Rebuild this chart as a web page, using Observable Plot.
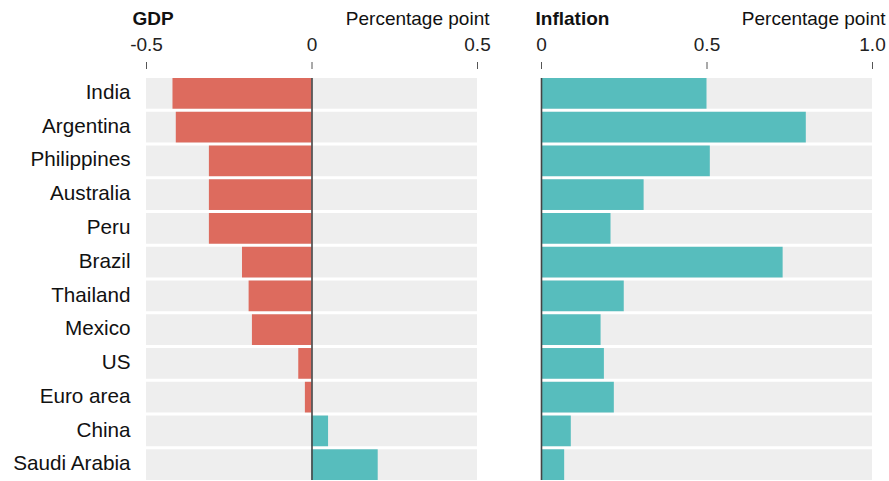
<!DOCTYPE html>
<html>
<head>
<meta charset="utf-8">
<script src="https://cdn.jsdelivr.net/npm/d3@7"></script>
<script src="https://cdn.jsdelivr.net/npm/@observablehq/plot@0.6"></script>
<style>
  html, body { margin: 0; padding: 0; background: #fff; }
  #wrap { position: relative; width: 889px; height: 481px; overflow: hidden; }
  #wrap svg { position: absolute; top: 0; }
</style>
</head>
<body>
<div id="wrap"></div>
<script>
const countries = ["India", "Argentina", "Philippines", "Australia", "Peru", "Brazil", "Thailand", "Mexico", "US", "Euro area", "China", "Saudi Arabia"];
const gdp = [-0.42, -0.41, -0.31, -0.31, -0.31, -0.21, -0.19, -0.18, -0.04, -0.02, 0.05, 0.20];
const inflation = [0.50, 0.80, 0.51, 0.31, 0.21, 0.73, 0.25, 0.18, 0.19, 0.22, 0.09, 0.07];
const gdpTicks = [-0.5, 0, 0.5];
const gdpTickLabels = ["-0.5", "0", "0.5"];
const infTicks = [0, 0.5, 1.0];
const infTickLabels = ["0", "0.5", "1.0"];
const panelTitles = ["GDP", "Inflation"];
const unitLabel = "Percentage point";

const RED = "#dd6b5e", TEAL = "#57bdbd", BG = "#eeeeee";
const FONT = "'Liberation Sans', Arial, Helvetica, sans-serif";

const gdpRows = countries.map((c, i) => ({country: c, value: gdp[i]}));
const infRows = countries.map((c, i) => ({country: c, value: inflation[i]}));

function panel({rows, domain, ticks, tickLabels, title, width, marginLeft, marginRight, showY, titleDx, unitDx}) {
  const fmt = d => tickLabels[ticks.indexOf(d)];
  return Plot.plot({
    width, height: 481,
    marginTop: 78, marginBottom: 1, marginLeft, marginRight,
    style: {background: "transparent", fontFamily: FONT, fontSize: "19px", color: "#111"},
    x: {domain, ticks, tickFormat: fmt, label: null},
    y: {domain: countries, paddingInner: 0.09, paddingOuter: 0, round: false, label: null},
    marks: [
      Plot.barX(rows, {y: "country", x1: () => domain[0], x2: () => domain[1], fill: BG}),
      Plot.barX(rows, {y: "country", x1: () => 0, x2: "value", fill: d => d.value < 0 ? RED : TEAL}),
      Plot.ruleX([0], {stroke: "#444", strokeWidth: 1.6}),
      Plot.axisX(ticks, {anchor: "top", tickFormat: fmt, tickSize: 7, dy: -10, tickPadding: 11, stroke: "#555", fill: "#222", fontSize: 19, label: null}),
      showY ? Plot.axisY({anchor: "left", tickSize: 0, tickPadding: 16, dy: -1.5, fill: "#111", fontSize: 20.7, label: null}) : Plot.axisY([], {label: null}),
      Plot.text([title], {text: d => d, frameAnchor: "top-left", textAnchor: "start", dx: titleDx, dy: -67, fontWeight: "bold", fontSize: 19, fill: "#111"}),
      Plot.text([unitLabel], {text: d => d, frameAnchor: "top-right", textAnchor: "end", dx: unitDx, dy: -67, fontSize: 19, fill: "#111"})
    ]
  });
}

const p1 = panel({rows: gdpRows, domain: [-0.5, 0.5], ticks: gdpTicks, tickLabels: gdpTickLabels, title: panelTitles[0],
  width: 495, marginLeft: 146, marginRight: 18, showY: true, titleDx: -14, unitDx: 12});
const p2 = panel({rows: infRows, domain: [0, 1.0], ticks: infTicks, tickLabels: infTickLabels, title: panelTitles[1],
  width: 389, marginLeft: 41, marginRight: 17, showY: false, titleDx: -6, unitDx: 13});
p1.style.left = "0px";
p2.style.left = "500px";
const wrap = document.getElementById("wrap");
wrap.appendChild(p1);
wrap.appendChild(p2);
</script>
</body>
</html>
